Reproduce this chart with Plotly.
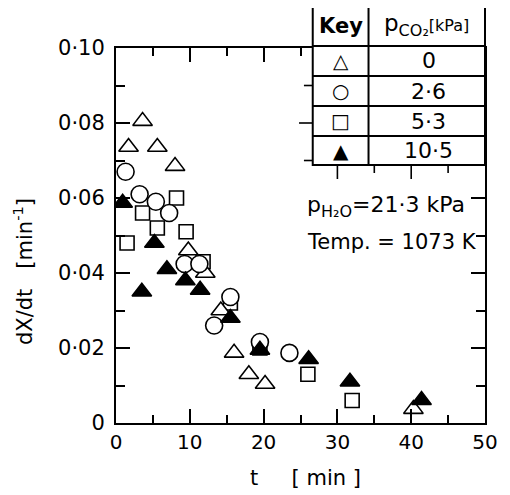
import plotly.graph_objects as go

# ---- data ----
t_p0 = [1.7, 3.6, 5.6, 8.0, 9.8, 12.1, 14.2, 16.0, 18.0, 20.2, 40.3]
r_p0 = [0.0736, 0.0805, 0.0736, 0.0685, 0.046, 0.040, 0.030, 0.0187, 0.013, 0.0104, 0.0037]

t_p26 = [1.3, 3.2, 5.4, 7.2, 9.3, 11.3, 13.3, 15.5, 19.5, 23.5]
r_p26 = [0.067, 0.061, 0.059, 0.056, 0.0424, 0.0424, 0.026, 0.0336, 0.0216, 0.0187]

t_p53 = [1.5, 3.6, 5.6, 8.2, 9.5, 11.8, 15.5, 19.5, 26.0, 32.0]
r_p53 = [0.048, 0.056, 0.052, 0.060, 0.051, 0.043, 0.032, 0.020, 0.013, 0.006]

t_p105 = [0.9, 3.5, 5.2, 6.9, 9.4, 11.4, 15.5, 19.5, 26.1, 31.7, 41.4]
r_p105 = [0.0587, 0.035, 0.048, 0.041, 0.038, 0.0355, 0.028, 0.0195, 0.017, 0.011, 0.0061]

x_ticks = [0, 10, 20, 30, 40, 50]
x_ticktext = ["0", "10", "20", "30", "40", "50"]
y_ticks = [0, 0.02, 0.04, 0.06, 0.08, 0.10]
y_ticktext = ["0", "0·02", "0·04", "0·06", "0·08", "0·10"]

key_labels = ["0", "2·6", "5·3", "10·5"]
key_symbols = ["△", "○", "□", "▲"]

FONT = "DejaVu Sans"
OFF = 8  # page body margin (left/top)
W, H = 510 - OFF, 495 - OFF
L, R, T, B = 116, 493, 48, 423  # plot area in page pixels


def px(xp):
    return (xp - L) / (R - L)


def py(yp):
    return (B - yp) / (B - T)


fig = go.Figure()
mk_line = dict(color="black", width=1.6)
fig.add_trace(go.Scatter(x=t_p53, y=r_p53, mode="markers", name="5.3",
                         marker=dict(symbol="square", size=14, color="white", line=mk_line)))
fig.add_trace(go.Scatter(x=t_p0, y=r_p0, mode="markers", name="0",
                         marker=dict(symbol="triangle-up", size=17, color="white", line=mk_line)))
fig.add_trace(go.Scatter(x=t_p26, y=r_p26, mode="markers", name="2.6",
                         marker=dict(symbol="circle", size=17, color="white", line=mk_line)))
fig.add_trace(go.Scatter(x=t_p105, y=r_p105, mode="markers", name="10.5",
                         marker=dict(symbol="triangle-up", size=17, color="black", line=mk_line)))

axis_common = dict(showgrid=False, zeroline=False, showline=True, linecolor="black",
                   linewidth=2, ticks="inside", tickcolor="black", tickwidth=1.6,
                   mirror="ticks", ticklabeloverflow="allow")

fig.update_xaxes(range=[0, 50], tickvals=x_ticks, ticktext=x_ticktext, ticklen=14,
                 tickfont=dict(family=FONT, size=20, color="black"),
                 minor=dict(dtick=5, ticklen=8, tickcolor="black", tickwidth=1.6, ticks="inside"),
                 **axis_common)
fig.update_yaxes(range=[0, 0.10], tickvals=y_ticks, ticktext=y_ticktext, ticklen=14,
                 ticklabelstandoff=5,
                 tickfont=dict(family=FONT, size=21, color="black"),
                 minor=dict(dtick=0.01, ticklen=9, tickcolor="black", tickwidth=1.6, ticks="inside"),
                 **axis_common)

shapes = []
# table
tl, tc, tr = 317, 374, 493
rows = [7, 46, 76, 106, 136, 165]
shapes.append(dict(type="rect", xref="paper", yref="paper", x0=px(tl), x1=px(tr),
                   y0=py(rows[-1]), y1=py(rows[0]), fillcolor="white",
                   line=dict(color="black", width=2), layer="above"))
shapes.append(dict(type="line", xref="paper", yref="paper", x0=px(tc), x1=px(tc),
                   y0=py(rows[-1]), y1=py(rows[0]), line=dict(color="black", width=2)))
for r in rows[1:-1]:
    shapes.append(dict(type="line", xref="paper", yref="paper", x0=px(tl), x1=px(tr),
                       y0=py(r), y1=py(r), line=dict(color="black", width=2)))
# axis ticks that show around the table (top-axis ticks below it, right-axis ticks left of it)
for xv, ln in [(30, 14), (35, 8), (40, 14), (45, 8)]:
    shapes.append(dict(type="line", xref="x", yref="paper", x0=xv, x1=xv,
                       y0=py(rows[-1]), y1=py(rows[-1] + ln),
                       line=dict(color="black", width=1.6)))
for yv, ln in [(0.07, 9), (0.08, 14), (0.09, 9)]:
    shapes.append(dict(type="line", xref="paper", yref="y", x0=px(tl - ln), x1=px(tl),
                       y0=yv, y1=yv, line=dict(color="black", width=1.6)))
fig.update_layout(shapes=shapes)

ann = []
ann.append(dict(text="<b>Key</b>", x=px((tl + tc) / 2), y=py(26),
                font=dict(family=FONT, size=21, color="black")))
ann.append(dict(text="p<sub><span style='font-size:16px'>CO₂</span></sub>"
                     "<span style='font-size:16px'>[kPa]</span>",
                x=px((tc + tr) / 2), y=py(25), font=dict(family=FONT, size=23, color="black")))
for i, (s, lab) in enumerate(zip(key_symbols, key_labels)):
    yc = (rows[i + 1] + rows[i + 2]) / 2
    ann.append(dict(text=s, x=px((tl + tc) / 2), y=py(yc),
                    font=dict(family="DejaVu Sans", size=20, color="black")))
    ann.append(dict(text=lab, x=px((tc + tr) / 2 + 2), y=py(yc),
                    font=dict(family=FONT, size=22, color="black")))
ann.append(dict(text="p<sub><span style='font-size:16px'>H₂O</span></sub>=21·3 kPa",
                x=px(392), y=py(206), font=dict(family=FONT, size=22, color="black")))
ann.append(dict(text="Temp. = 1073 K", x=px(398), y=py(242),
                font=dict(family=FONT, size=21, color="black")))
ann.append(dict(text="t     [ min ]", x=px(310), y=py(478),
                font=dict(family=FONT, size=21, color="black")))
ann.append(dict(text="dX/dt   [min<sup>-1</sup>]", x=px(21), y=py(272), textangle=-90,
                font=dict(family=FONT, size=21, color="black")))
for a in ann:
    a.update(xref="paper", yref="paper", showarrow=False, xanchor="center", yanchor="middle")
fig.update_layout(annotations=ann)

fig.update_layout(width=W, height=H, margin=dict(l=L - OFF, r=510 - R, t=T - OFF, b=495 - B),
                  plot_bgcolor="white", paper_bgcolor="white", showlegend=False)

fig.write_html("out.html")
